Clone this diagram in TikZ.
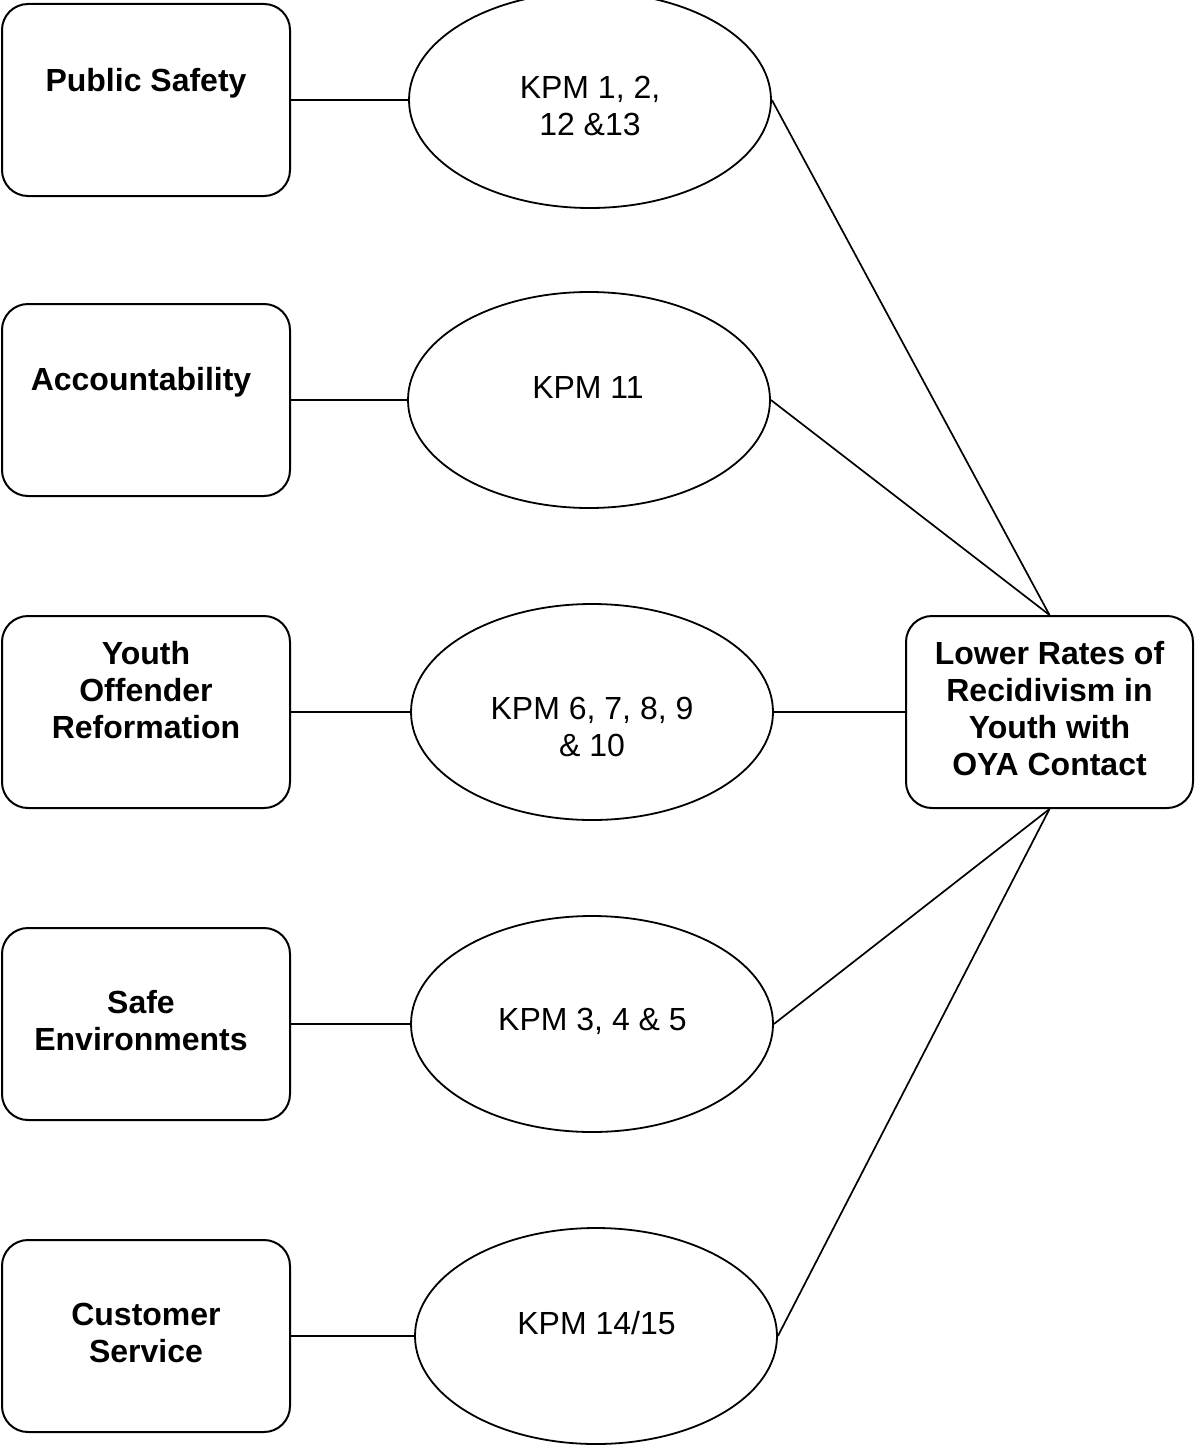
\documentclass[tikz,border=0pt]{standalone}
\usepackage{fontspec}
\setmainfont{Liberation Sans}
\usetikzlibrary{shapes.geometric}
\begin{document}
\begin{tikzpicture}[x=1pt,y=-1pt,
  goal/.style={draw, line width=2pt, rounded corners=26pt, minimum width=288pt, minimum height=192pt, inner sep=0pt},
  kpm/.style={draw, ellipse, line width=1.8pt, minimum width=362pt, minimum height=216pt, inner sep=0pt},
  lbl/.style={font=\fontsize{32}{36.8}\selectfont\bfseries, align=center, anchor=base, inner sep=0pt},
  klbl/.style={font=\fontsize{32}{36.8}\selectfont, align=center, anchor=base, inner sep=0pt},
  link/.style={line width=1.7pt}]
\useasboundingbox (0,0) rectangle (1194,1445);

% left goal boxes
\node[goal] (ps) at (146,100) {};
\node[goal] (ac) at (146,400) {};
\node[goal] (yo) at (146,712) {};
\node[goal] (se) at (146,1024) {};
\node[goal] (cs) at (146,1336) {};

% labels (anchor = baseline of last line)
\node[lbl] (psT) at (146,91) {Public Safety};
\node[lbl] (acT) at (141,390) {Accountability};
\node[lbl] (yoT) at (146,738) {Youth\\Offender\\Reformation};
\node[lbl] (seT) at (141,1050) {Safe\\Environments};
\node[lbl] (csT) at (146,1362) {Customer\\Service};

% KPM ellipses
\node[kpm] (k1) at (590,100) {};
\node[kpm] (k2) at (589,400) {};
\node[kpm] (k3) at (592,712) {};
\node[kpm] (k4) at (592,1024) {};
\node[kpm] (k5) at (596,1336) {};

\node[klbl] (k1T) at (590,135) {KPM 1, 2,\\12 \&13};
\node[klbl] (k2T) at (588,398) {KPM 11};
\node[klbl] (k3T) at (592,756) {KPM 6, 7, 8, 9\\\& 10};
\node[klbl] (k4T) at (592.5,1030) {KPM 3, 4 \& 5};
\node[klbl] (k5T) at (596.5,1334) {KPM 14/15};

% result box
\node[goal, minimum width=287pt] (rb) at (1049.5,712) {};
\node[lbl] (rbT) at (1049.5,775) {Lower Rates of\\Recidivism in\\Youth with\\OYA Contact};

% connectors
\draw[link] (ps.east) -- (k1.west);
\draw[link] (ac.east) -- (k2.west);
\draw[link] (yo.east) -- (k3.west);
\draw[link] (se.east) -- (k4.west);
\draw[link] (cs.east) -- (k5.west);

\draw[link] (k1.east) -- (rb.north);
\draw[link] (k2.east) -- (rb.north);
\draw[link] (k3.east) -- (rb.west);
\draw[link] (k4.east) -- (rb.south);
\draw[link] (k5.east) -- (rb.south);
\end{tikzpicture}
\end{document}
